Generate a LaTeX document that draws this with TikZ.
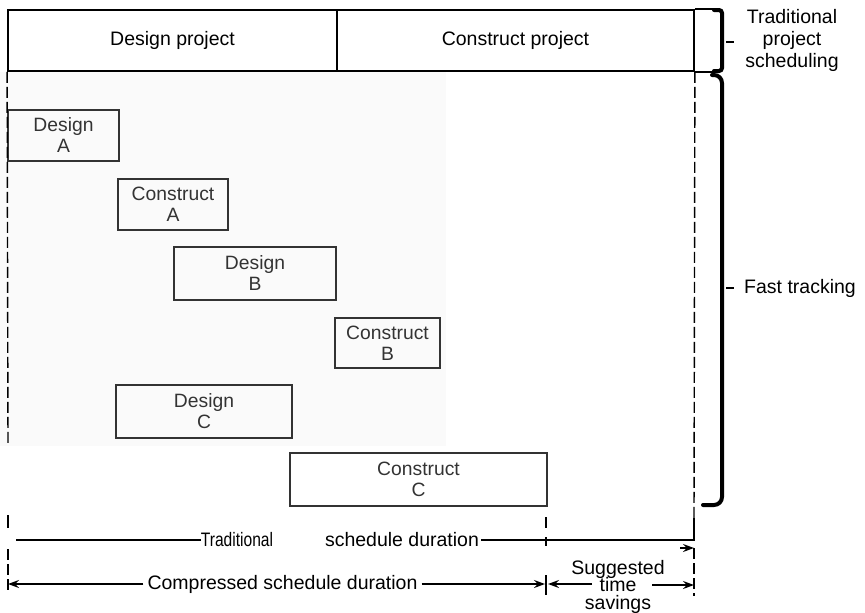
\documentclass[tikz,border=0pt]{standalone}
\usepackage{fontspec}
\setmainfont{Liberation Sans}
\usetikzlibrary{arrows.meta}
\begin{document}
\begin{tikzpicture}[x=1pt,y=-1pt,
  lbl/.style={font=\fontsize{19.5}{22}\selectfont, inner sep=0pt},
  task/.style={draw=black!80, line width=1.5pt, inner sep=0pt, align=center,
    text=black!80, font=\fontsize{19.3}{21}\selectfont},
  phase/.style={draw=black, line width=1.8pt, inner sep=0pt,
    font=\fontsize{19.5}{22}\selectfont},
  dim/.style={line width=1.4pt},
  tip/.style={-{Stealth[length=11pt,width=8pt,inset=4pt]}},
  guide/.style={line width=1.4pt, dash pattern=on 11pt off 4pt},
  brace/.style={line width=4pt, line cap=round}
]
\useasboundingbox (0,0) rectangle (865,613);

% faint background of the fast-tracking area
\fill[black!2] (0,72) rectangle (446,446);

% traditional scheduling: two phases in a row
\node[phase, minimum width=329, minimum height=61] (dp) at (172.5,40.5) {Design project};
\node[phase, minimum width=357, minimum height=61] (cp) at (515.5,40.5) {Construct project};
\draw[line width=1.8pt] (cp.north east) -- ++(24,0);
\draw[line width=1.8pt] (cp.south east) -- ++(24,0);

% fast tracking: overlapping design / construct packages
\node[task, minimum width=111, minimum height=51] (da) at (63.5,135.5) {Design\\A};
\node[task, minimum width=110, minimum height=51] (ca) at (173,204.5) {Construct\\A};
\node[task, minimum width=162, minimum height=53] (db) at (255,273.5) {Design\\B};
\node[task, minimum width=105, minimum height=50] (cb) at (387.5,343) {Construct\\B};
\node[task, minimum width=176, minimum height=53] (dc) at (204,411.5) {Design\\C};
\node[task, minimum width=257, minimum height=53] (cc) at (418.5,479.5) {Construct\\C};

% brackets on the right
\draw[brace, rounded corners=3pt] (714,10) -- (722,10) -- (722,71) -- (714,71);
\draw[brace, rounded corners=8pt] (712,75) -- (722,75) -- (722,505) -- (703,505);
\draw[line width=1.4pt] (726,42) -- (734,42);
\draw[line width=1.4pt] (726,288) -- (734,288);
\node[lbl, align=center] (trad) at (792,40) {Traditional\\project\\scheduling};
\node[lbl, anchor=west] (fast) at (744,288) {Fast tracking};

% extension lines
\draw[guide] (dp.south west) -- (8,446);
\draw[line width=1.4pt] (8,515) -- (8,528);
\draw[guide] (8,549) -- (8,591);
\draw[guide] (cp.south east) -- (694,518);
\draw[line width=1.6pt] (694,518) -- (694,541);
\draw[guide] (694,548) -- (694,596);
\draw[line width=1.4pt] (546,517) -- (546,528);
\draw[line width=1.4pt] (546,537) -- (546,546);
\draw[line width=1.4pt] (546,575) -- (546,595);

% traditional schedule duration
\coordinate (t0) at (16,540);
\coordinate (t1) at (694,540);
\node[lbl] (tw) at (237,540) {\scalebox{0.8}[1]{Traditional}};
\node[lbl] (sd) at (402,540) {schedule duration};
\draw[line width=2pt] (t0) -- (tw.west);
\draw[dim] (sd.east) ++(2,0) -- (t1);
\coordinate (t2) at (680,548);
\coordinate (t3) at (694,548);
\draw[dim, tip] (t2) -- (t3);

% compressed schedule duration and time savings
\coordinate (c0) at (8,584);
\coordinate (c1) at (545,584);
\node[lbl] (cs) at (282.5,584) {Compressed schedule duration};
\draw[dim, tip] (cs.west) ++(-4,0) -- (c0);
\draw[dim, tip] (cs.east) ++(4,0) -- (c1);
\node[lbl, align=center] (sv) at (618,587) {Suggested\\[-5pt]time\\[-4pt]savings};
\coordinate (s0) at (592,584);
\coordinate (s1) at (548,584);
\coordinate (s2) at (652,585);
\coordinate (s3) at (694,585);
\draw[dim, tip] (s0) -- (s1);
\draw[dim, tip] (s2) -- (s3);
\end{tikzpicture}
\end{document}
